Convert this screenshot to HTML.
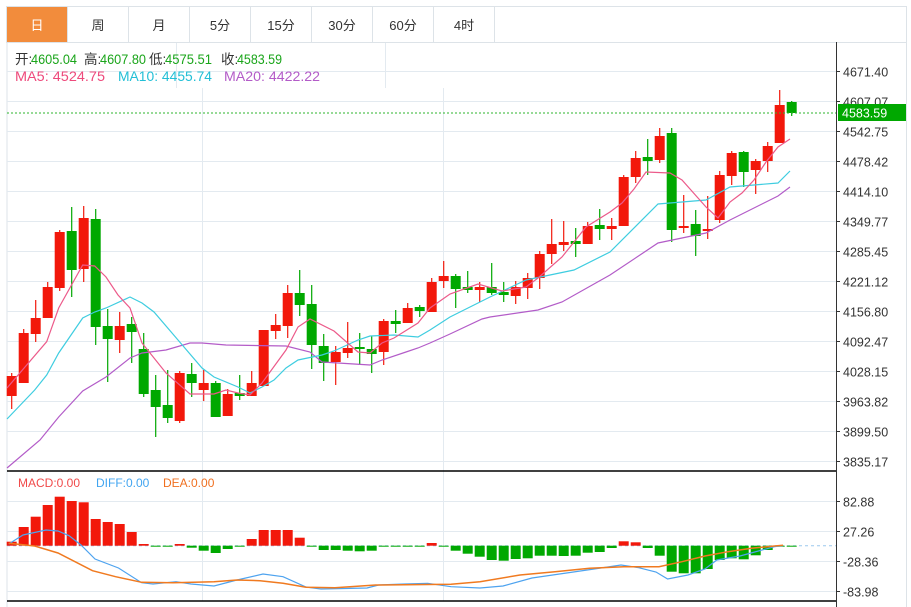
<!DOCTYPE html>
<html><head><meta charset="utf-8"><style>
body{margin:0;background:#fff;width:911px;height:607px;overflow:hidden;font-family:"Liberation Sans","Noto Sans CJK SC",sans-serif}
svg{position:absolute;left:0;top:0}
</style></head><body>
<svg id="s" width="911" height="607" xmlns="http://www.w3.org/2000/svg" font-family="Liberation Sans, Noto Sans CJK SC, sans-serif"></svg>
<script>
const s=document.getElementById('s');let h='';
const G='#e3eaf0',R='#f2180b',GR='#00a800';
const tabs=['日','周','月','5分','15分','30分','60分','4时'];
h+=`<rect x="6.5" y="6.5" width="900" height="36" fill="#fff" stroke="#dde3e8"/>`;
tabs.forEach((t,i)=>{const x=6.5+i*61;
 if(i==0)h+=`<rect x="7" y="7" width="60" height="35" fill="#f28c3c"/>`;
 h+=`<line x1="${x+61}" y1="7" x2="${x+61}" y2="42" stroke="#dde3e8"/>`;
 h+=`<text x="${x+30.5}" y="30" font-size="13" text-anchor="middle" fill="${i==0?'#fff':'#333'}">${t}</text>`;});
h+=`<line x1="7" y1="42" x2="7" y2="607" stroke="#dde3e8"/><line x1="906.5" y1="42" x2="906.5" y2="607" stroke="#dde3e8"/>`;
const ticks=['4671.40','4607.07','4542.75','4478.42','4414.10','4349.77','4285.45','4221.12','4156.80','4092.47','4028.15','3963.82','3899.50','3835.17'];
ticks.forEach((t,i)=>{const y=71+i*30+0.5;h+=`<line x1="7" y1="${y}" x2="836" y2="${y}" stroke="${G}"/><line x1="836" y1="${y}" x2="840" y2="${y}" stroke="#333"/><text x="843" y="${y+5}" font-size="12.5" fill="#333">${t}</text>`;});
[202.5,443.5].forEach(x=>{h+=`<line x1="${x}" y1="88" x2="${x}" y2="601" stroke="${G}"/>`});
h+=`<line x1="176.5" y1="43" x2="176.5" y2="88" stroke="${G}"/><line x1="385.5" y1="43" x2="385.5" y2="88" stroke="${G}"/>`;
const mt=[[82.88,501.5],[27.26,531.5],[-28.36,561.5],[-83.98,591.5]];
mt.forEach(([t,y])=>{h+=`<line x1="7" y1="${y}" x2="836" y2="${y}" stroke="${G}"/><line x1="836" y1="${y}" x2="840" y2="${y}" stroke="#333"/><text x="843" y="${y+5}" font-size="12.5" fill="#333">${t.toFixed(2)}</text>`;});
const C=[[373,376,396,409,1],[329,333,383,383,1],[300,318,334,342,1],[282,287,318,318,1],[230,232,288,291,1],[207,231,270,297,0],[206,218,269,282,1],[209,219,327,345,0],[309,326,339,382,0],[312,326,340,353,1],[317,324,332,363,0],[333,349,394,397,0],[375,390,407,437,0],[370,405,418,423,0],[371,373,421,423,1],[363,374,383,397,0],[370,383,390,401,1],[381,383,417,417,0],[389,394,416,416,1],[375,393,396,400,0],[371,383,396,396,1],[330,330,386,386,1],[314,325,331,339,1],[285,293,326,338,1],[270,293,305,316,0],[285,304,345,369,0],[334,346,363,381,0],[346,352,362,385,1],[322,348,353,358,1],[333,347,349,365,0],[336,349,354,373,0],[319,321,352,365,1],[310,321,324,333,0],[303,308,323,323,1],[305,307,311,317,0],[278,282,312,312,1],[261,276,281,288,1],[274,276,289,308,0],[271,287,290,293,0],[282,287,290,302,1],[263,287,293,295,0],[282,292,295,302,0],[281,287,296,304,1],[273,278,288,299,1],[251,254,278,289,1],[219,244,254,264,1],[221,242,245,251,1],[228,241,244,257,0],[222,226,244,244,1],[209,225,229,240,0],[218,226,229,240,1],[175,177,226,226,1],[151,158,177,183,1],[139,157,161,175,0],[128,136,160,163,1],[128,133,230,242,0],[195,226,228,233,1],[210,224,236,256,0],[196,229,231,239,1],[171,175,220,223,1],[151,153,176,185,1],[151,152,172,187,0],[159,161,170,194,1],[142,146,161,172,1],[90,105,143,143,1],[101,102,113,116,0]];
const X=i=>11.7+12*i;
C.forEach((c,i)=>{const x=X(i),col=c[4]?R:GR;
 h+=`<line x1="${x}" y1="${c[0]}" x2="${x}" y2="${c[3]}" stroke="${col}" stroke-width="1.2"/>`;
 h+=`<rect x="${x-5}" y="${c[1]}" width="10" height="${Math.max(c[2]-c[1],1.5)}" fill="${col}"/>`;});
const pl=(p,c,w)=>`<polyline fill="none" stroke="${c}" stroke-width="${w||1.2}" points="${p.map(q=>q.join(',')).join(' ')}"/>`;
const MA5=[[7,388],[46.7,341.7],[58.7,308],[82.7,265],[94.7,266],[106,277],[118,295],[130,308],[142,343],[154,358],[166,373],[190,394],[214,394],[226,390],[238,393],[250,395],[262,383],[286,350],[298,327],[310,319],[334,331],[358,352],[370,353],[382,343],[394,338],[418,323],[430,308],[450,294],[478,284],[502,291],[526,287],[538,278],[562,257],[586,227],[610,212],[622,203],[634,189],[646,172],[670,173],[682,180],[706,207],[718,218],[730,202],[742,193],[754,180],[766,162],[778,147],[790,139]];
const MA10=[[7,419],[34.7,390],[46.7,375],[58.7,353],[82.7,318],[94.7,312],[106,308],[130,297],[142,303],[154,312],[178,340],[202,368],[214,377],[238,387],[250,393],[262,387],[274,380],[286,368],[298,360],[322,355],[334,351],[358,340],[370,336],[394,335],[418,337],[430,330],[450,317],[490,297],[526,280],[574,270],[610,252],[658,204],[706,200],[730,187],[778,183],[790,171]];
const MA20=[[7,468],[40,440],[58.7,417],[82.7,391],[106,377],[130,358],[142,353],[166,350],[190,343],[202,343],[226,345],[286,346],[310,352],[322,362],[370,365],[382,360],[406,352],[418,348],[430,343],[450,334],[482,319],[490,317],[538,310],[562,302],[610,275],[658,243],[706,233],[730,220],[778,196],[790,187]];
h+=pl(MA20,'#b35cc8')+pl(MA10,'#3fcde0')+pl(MA5,'#ec5a8a');
h+=`<line x1="7" y1="113" x2="836" y2="113" stroke="#2db52d" stroke-dasharray="2,2"/>`;
h+=`<rect x="838" y="104" width="68" height="17" fill="#00a800"/><text x="842" y="117.5" font-size="12.5" fill="#fff">4583.59</text>`;
const hd=[[15,'开:',31,'4605.04',77],[84,'高:',100,'4607.80',146],[149,'低:',165,'4575.51',212],[221,'收:',237,'4583.59',282]];
hd.forEach(([x,a,x2,b,e])=>{h+=`<text x="${x}" y="64" font-size="13.5" fill="#333">${a}</text><text x="${x2}" y="64" font-size="14" fill="#1aa51a" textLength="${e-x2}" lengthAdjust="spacingAndGlyphs">${b}</text>`;});
h+=`<text x="15" y="81" font-size="14" fill="#ee4a7c" textLength="90" lengthAdjust="spacingAndGlyphs">MA5: 4524.75</text><text x="118" y="81" font-size="14" fill="#22bfd6" textLength="94" lengthAdjust="spacingAndGlyphs">MA10: 4455.74</text><text x="224" y="81" font-size="14" fill="#b35cc8" textLength="96" lengthAdjust="spacingAndGlyphs">MA20: 4422.22</text>`;
h+=`<line x1="7" y1="471" x2="836" y2="471" stroke="#000" stroke-width="1.5"/><line x1="7" y1="601" x2="836" y2="601" stroke="#000" stroke-width="1.5"/>`;
h+=`<text x="18" y="487" font-size="12" fill="#f04a4a">MACD:0.00</text><text x="96" y="487" font-size="12" fill="#42a5f0">DIFF:0.00</text><text x="163" y="487" font-size="12" fill="#f07020">DEA:0.00</text>`;
const Z=545.7;
const M=[541.7,527,516.7,505,496.7,501,502.3,519,522,524,532,544,546.7,546.7,544,547.7,550.7,553,549,546.5,539,530,530,530,537.7,546.5,550,550,550.7,551.3,550.7,546.7,546.7,546.3,546.3,543,546.3,550.7,553.7,556.7,560,560.7,559,558.3,555.7,555.7,556,555.7,552.7,552,548,541.3,542.3,548,555.7,571.7,573.3,573.3,569,560,558.3,559.3,555.3,550,546.5,546.2];
h+=`<line x1="7" y1="${Z}" x2="836" y2="${Z}" stroke="#9cc8ee" stroke-dasharray="3,3"/>`;
M.forEach((y,i)=>{const x=X(i);const up=y<Z;h+=`<rect x="${x-5}" y="${Math.min(y,Z)}" width="10" height="${Math.max(Math.abs(y-Z),1)}" fill="${up?R:GR}"/>`;});
const DIFF=[[8.7,544],[23,535],[46,530],[58,531],[69,535.7],[81,545],[95,559],[118.5,568],[141.6,582.7],[153,584],[176,581.7],[191,584],[214,586],[237,580],[263,574],[283,576.7],[306,587],[321,589],[367,588],[378.6,585],[404.6,584],[427.7,583.3],[451,586.7],[480,588],[503,586],[532,578],[566.5,573],[601,568],[621,565],[638.7,567.7],[656,572],[667.6,579],[688,575],[705,569],[716.8,560],[740,556],[751,553],[774.6,546.7],[783,545.7]];
const DEA=[[8.7,543.3],[34.7,546],[58,553],[92.5,570.7],[115.6,576.7],[141.6,582.3],[173,582.7],[214,581.7],[237,580],[260,580.7],[283,583.3],[306,587.3],[335,587.7],[375.7,585],[451,584.3],[480,581.7],[520,575],[555,571.7],[589.6,568.3],[624,566.7],[659,566.7],[682,561.7],[705,556],[728,551.7],[751.4,548.3],[774.6,546],[783,545.3]];
h+=pl(DIFF,'#4ea3ef')+pl(DEA,'#f07a20',1.5);
h+=`<line x1="836.5" y1="42" x2="836.5" y2="607" stroke="#333"/>`;
s.innerHTML=h;
</script>
</body></html>
